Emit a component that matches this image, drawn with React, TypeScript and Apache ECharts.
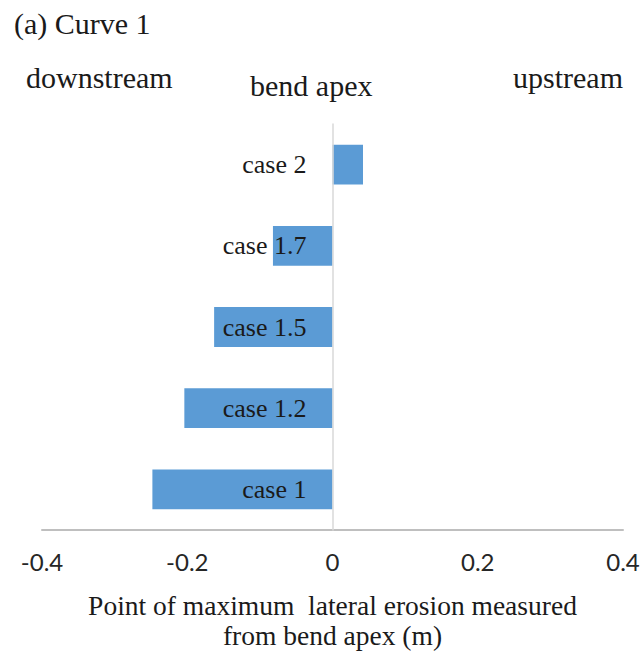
import React, { useEffect, useRef } from "react";
import * as echarts from "echarts";

// Cases, listed bottom to top on the category axis
const caseLabels = ["case 1", "case 1.2", "case 1.5", "case 1.7", "case 2"];
// Position of maximum lateral erosion relative to the bend apex (m)
const erosionPoint = [-0.248, -0.204, -0.163, -0.082, 0.042];
// Value axis ticks
const xTicks = [-0.4, -0.2, 0, 0.2, 0.4];

const panelTitle = "(a) Curve 1";
const directionLabels = ["downstream", "bend apex", "upstream"];
const xAxisTitle = "Point of maximum  lateral erosion measured\nfrom bend apex (m)";

const SERIF = "'Liberation Serif', 'Times New Roman', serif";
const SANS = "Lato, 'Open Sans', 'Liberation Sans', sans-serif";

const GRID_LEFT = 42;
const GRID_RIGHT = 17;
const WIDTH = 640;

export default function App() {
  const ref = useRef<HTMLDivElement>(null);

  useEffect(() => {
    if (!ref.current) return;
    const chart = echarts.init(ref.current, null, { renderer: "svg" });
    // the category axis sits on the zero line, halfway across the symmetric value range
    const zeroOffset = (WIDTH - GRID_LEFT - GRID_RIGHT) / 2;
    chart.setOption({
      animation: false,
      backgroundColor: "#ffffff",
      grid: {
        left: GRID_LEFT,
        right: GRID_RIGHT,
        top: 124,
        bottom: 127,
        containLabel: false,
        outerBoundsMode: "none",
      },
      xAxis: {
        type: "value",
        min: xTicks[0],
        max: xTicks[xTicks.length - 1],
        interval: 0.2,
        axisLine: { show: true, lineStyle: { color: "#bfbfbf", width: 2 } },
        axisTick: { show: false },
        splitLine: { show: false },
        axisLabel: {
          margin: 19,
          fontFamily: SANS,
          fontSize: 24,
          color: "#262626",
          formatter: (v: number) => {
            const t = xTicks.find((x) => Math.abs(x - v) < 1e-9);
            return t === undefined ? "" : String(t);
          },
        },
        name: xAxisTitle,
        nameLocation: "middle",
        nameGap: 60,
        nameTextStyle: {
          fontFamily: SERIF,
          fontSize: 27.5,
          color: "#1a1a1a",
          lineHeight: 30,
        },
      },
      yAxis: {
        type: "category",
        data: caseLabels,
        position: "left",
        offset: -zeroOffset,
        z: 10,
        axisLine: { show: true, onZero: false, lineStyle: { color: "#d9d9d9", width: 1.5 } },
        axisTick: { show: false },
        splitLine: { show: false },
        axisLabel: {
          margin: 26,
          fontFamily: SERIF,
          fontSize: 26,
          color: "#1a1a1a",
        },
      },
      series: [
        {
          type: "bar",
          data: erosionPoint,
          barWidth: "49%",
          itemStyle: { color: "#5b9bd5" },
        },
      ],
      graphic: [
        {
          type: "text",
          left: 14,
          top: 8,
          style: { text: panelTitle, font: `30px ${SERIF}`, fill: "#1a1a1a" },
        },
        {
          type: "text",
          left: 26,
          top: 62,
          style: { text: directionLabels[0], font: `30px ${SERIF}`, fill: "#1a1a1a" },
        },
        {
          type: "text",
          left: 250,
          top: 70,
          style: { text: directionLabels[1], font: `30px ${SERIF}`, fill: "#1a1a1a" },
        },
        {
          type: "text",
          left: 513,
          top: 62,
          style: { text: directionLabels[2], font: `30px ${SERIF}`, fill: "#1a1a1a" },
        },
      ],
    });
    return () => chart.dispose();
  }, []);

  return (
    <div
      ref={ref}
      style={{ position: "fixed", left: 0, top: 0, width: 640, height: 657 }}
    />
  );
}
